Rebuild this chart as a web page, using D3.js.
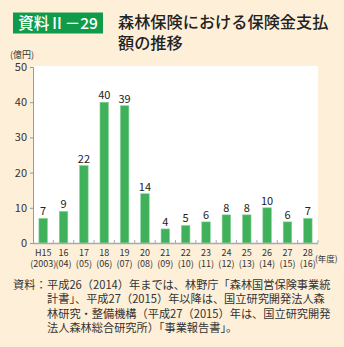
<!DOCTYPE html>
<html>
<head>
<meta charset="utf-8">
<script src="https://cdn.jsdelivr.net/npm/d3@7/dist/d3.min.js"></script>
<style>
  html, body { margin: 0; padding: 0; background: #fdefd8; }
  svg { display: block; }
  text { font-family: "Noto Sans CJK JP", "Noto Sans", sans-serif; }
</style>
</head>
<body>
<svg id="chart" width="344" height="347"></svg>
<script>
// Insurance payouts of forest insurance by fiscal year (unit: 100 million yen)
const yearLabels = ["H15", "16", "17", "18", "19", "20", "21", "22", "23", "24", "25", "26", "27", "28"];
const westernLabels = ["(2003)", "(04)", "(05)", "(06)", "(07)", "(08)", "(09)", "(10)", "(11)", "(12)", "(13)", "(14)", "(15)", "(16)"];
const payouts = [7, 9, 22, 40, 39, 14, 4, 5, 6, 8, 8, 10, 6, 7];
const yTicks = [0, 10, 20, 30, 40, 50];

const footnoteLines = [
  "平成26（2014）年までは、林野庁「森林国営保険事業統",
  "計書」、平成27（2015）年以降は、国立研究開発法人森",
  "林研究・整備機構（平成27（2015）年は、国立研究開発",
  "法人森林総合研究所）「事業報告書」。"
];

const svg = d3.select("#chart");
const plot = { left: 33, right: 318, top: 67, bottom: 243 };
const latin = "Liberation Sans, Arial, sans-serif";

// Heading badge and title
svg.append("rect")
  .attr("x", 13).attr("y", 12.5).attr("width", 90).attr("height", 21)
  .attr("fill", "#109b4a");
svg.append("text")
  .attr("x", 58).attr("y", 28.5)
  .attr("text-anchor", "middle")
  .attr("fill", "#fff").attr("font-size", 15.5).attr("font-weight", 500)
  .text("資料Ⅱ－29");
svg.append("text")
  .attr("x", 118).attr("y", 27.5)
  .attr("fill", "#222").attr("font-size", 16.2).attr("font-weight", 500)
  .text("森林保険における保険金支払");
svg.append("text")
  .attr("x", 118).attr("y", 49)
  .attr("fill", "#222").attr("font-size", 16.2).attr("font-weight", 500)
  .text("額の推移");

// Plot background
svg.append("rect")
  .attr("x", plot.left).attr("y", plot.top - 1)
  .attr("width", plot.right - plot.left).attr("height", plot.bottom - plot.top + 1)
  .attr("fill", "#fff");

const x = d3.scaleBand()
  .domain(yearLabels)
  .range([plot.left, plot.right])
  .paddingInner(0.58)
  .paddingOuter(0.29);

const y = d3.scaleLinear().domain([0, 50]).range([plot.bottom, plot.top]);

// Y axis
const yAxis = svg.append("g")
  .attr("transform", `translate(${plot.left},0)`)
  .call(d3.axisLeft(y).tickValues(yTicks).tickSize(3).tickPadding(3));
yAxis.select(".domain").attr("stroke", "#999");
yAxis.selectAll(".tick line").attr("stroke", "#999");
yAxis.selectAll(".tick text")
  .attr("font-size", 11).attr("fill", "#333")
  .attr("font-family", latin);

svg.append("text")
  .attr("x", 10).attr("y", 58)
  .attr("font-size", 9).attr("fill", "#333")
  .text("(億円)");

// Bars
svg.append("g").selectAll("rect")
  .data(payouts)
  .join("rect")
  .attr("x", (d, i) => x(yearLabels[i]))
  .attr("y", d => y(d))
  .attr("width", x.bandwidth())
  .attr("height", d => y(0) - y(d))
  .attr("fill", "#3fb15a")
  .attr("stroke", "#8fd39d")
  .attr("stroke-width", 0.6);

// Value labels
svg.append("g").selectAll("text")
  .data(payouts)
  .join("text")
  .attr("x", (d, i) => x(yearLabels[i]) + x.bandwidth() / 2)
  .attr("y", d => y(d) - 3)
  .attr("text-anchor", "middle")
  .attr("font-size", 11).attr("fill", "#222")
  .attr("font-family", latin)
  .text(d => d);

// X baseline with small ticks at category boundaries
svg.append("line")
  .attr("x1", plot.left).attr("x2", plot.right)
  .attr("y1", plot.bottom + 0.5).attr("y2", plot.bottom + 0.5)
  .attr("stroke", "#aaa").attr("stroke-width", 1.5);
const step = x.step();
svg.append("g").selectAll("line")
  .data(d3.range(1, yearLabels.length + 1))
  .join("line")
  .attr("x1", i => plot.left + i * step)
  .attr("x2", i => plot.left + i * step)
  .attr("y1", plot.bottom - 3).attr("y2", plot.bottom)
  .attr("stroke", "#aaa").attr("stroke-width", 1);

// X labels: Japanese era year and western year
const xLab = svg.append("g").attr("font-family", latin);
xLab.selectAll("text.jp")
  .data(yearLabels)
  .join("text")
  .attr("class", "jp")
  .attr("x", d => x(d) + x.bandwidth() / 2)
  .attr("y", 255.5)
  .attr("text-anchor", "middle")
  .attr("font-size", 9).attr("fill", "#333")
  .text(d => d);
xLab.selectAll("text.we")
  .data(westernLabels)
  .join("text")
  .attr("class", "we")
  .attr("x", (d, i) => x(yearLabels[i]) + x.bandwidth() / 2)
  .attr("y", 267)
  .attr("text-anchor", "middle")
  .attr("font-size", 9).attr("fill", "#333")
  .text(d => d);
svg.append("text")
  .attr("x", 315).attr("y", 262)
  .attr("font-size", 8.5).attr("fill", "#333")
  .text("(年度)");

// Source note
svg.append("text")
  .attr("x", 13).attr("y", 289)
  .attr("font-size", 11.2).attr("fill", "#333")
  .text("資料：");
svg.append("g").selectAll("text")
  .data(footnoteLines)
  .join("text")
  .attr("x", 47)
  .attr("y", (d, i) => 289 + i * 14.4)
  .attr("font-size", 11.2).attr("fill", "#333")
  .text(d => d);
</script>
</body>
</html>
